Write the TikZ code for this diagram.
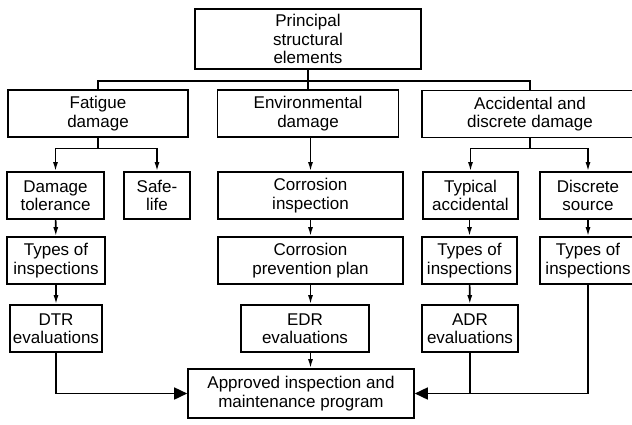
\documentclass[tikz,border=0pt]{standalone}
\usepackage{fontspec}
\setmainfont{Liberation Sans}
\usepackage{tikz}
\usetikzlibrary{arrows.meta,positioning}

\begin{document}
\begin{tikzpicture}[
    x=1pt, y=-1pt,
    every node/.style={font=\fontsize{17}{18.5}\selectfont},
    box/.style={draw=black, line width=1.6pt, align=center,
      minimum height=47pt, inner sep=1pt},
    link/.style={line width=1.6pt, draw=black},
    flow/.style={-{Latex[length=9pt, width=5pt]}, line width=1.6pt, draw=black},
    bigflow/.style={-{Triangle[length=13pt, width=12pt]}, line width=1.6pt, draw=black}
  ]
    \useasboundingbox (0,0) rectangle (632,424);
    \node[box, minimum width=226pt, minimum height=60pt] (pse) at (308,39) {Principal\\structural\\elements};
    \node[box, minimum width=180pt] (fatigue) at (98,113.5) {Fatigue\\damage};
    \node[box, minimum width=181pt] (environ) at (308,113.5) {Environmental\\damage};
    \node[box, minimum width=216pt] (accident) at (530,114) {Accidental and\\discrete damage};
    \node[box, minimum width=97pt] (dtol) at (55.5,195.5) {Damage\\tolerance};
    \node[box, minimum width=66pt] (safe) at (157,195.5) {Safe-\\life};
    \node[box, minimum width=185pt] (corrinsp) at (310.5,195.5) {Corrosion\\inspection};
    \node[box, minimum width=95pt] (typacc) at (470.5,195.5) {Typical\\accidental};
    \node[box, minimum width=96pt] (discsrc) at (588,195.5) {Discrete\\source};
    \node[box, minimum width=98pt] (typesdt) at (56,260.5) {Types of\\inspections};
    \node[box, minimum width=185pt] (corrplan) at (310.5,260.5) {Corrosion\\prevention plan};
    \node[box, minimum width=95pt] (typesacc) at (469.5,260.5) {Types of\\inspections};
    \node[box, minimum width=96pt] (typesdisc) at (588,260.5) {Types of\\inspections};
    \node[box, minimum width=92pt] (dtr) at (56,328.5) {DTR\\evaluations};
    \node[box, minimum width=128pt] (edr) at (305,328.5) {EDR\\evaluations};
    \node[box, minimum width=96pt] (adr) at (470,328.5) {ADR\\evaluations};
    \node[box, minimum width=226pt, minimum height=49pt] (program) at (301,393.5) {Approved inspection and\\maintenance program};
    \draw[link] (pse) -- (environ);
    \draw[link] (fatigue.north) -- ++(0,-8) -| (accident.north);
    \draw[link] (fatigue.south) -- ++(0,10.5) coordinate (fatbr);
    \draw[flow] (fatbr) -| (dtol);
    \draw[flow] (fatbr) -| (safe);
    \draw[flow] (environ.south -| corrinsp) -- (corrinsp);
    \draw[link] (accident.south) -- ++(0,10) coordinate (accbr);
    \draw[flow] (accbr) -| (typacc);
    \draw[flow] (accbr) -| (discsrc);
    \draw[flow] (dtol) -- (typesdt);
    \draw[flow] (corrinsp) -- (corrplan);
    \draw[flow] (typacc.south -| typesacc) -- (typesacc);
    \draw[flow] (discsrc) -- (typesdisc);
    \draw[flow] (typesdt) -- (dtr);
    \draw[flow] (corrplan.south) -- (corrplan.south |- edr.north);
    \draw[flow] (typesacc) -- (adr);
    \draw[bigflow] (dtr) |- (program);
    \draw[flow] (edr.south -| corrplan) -- (corrplan |- program.north);
    \draw[bigflow] (typesdisc) |- (program);
    \draw[link] (adr) -- (adr |- program);
  \end{tikzpicture}
\end{document}
